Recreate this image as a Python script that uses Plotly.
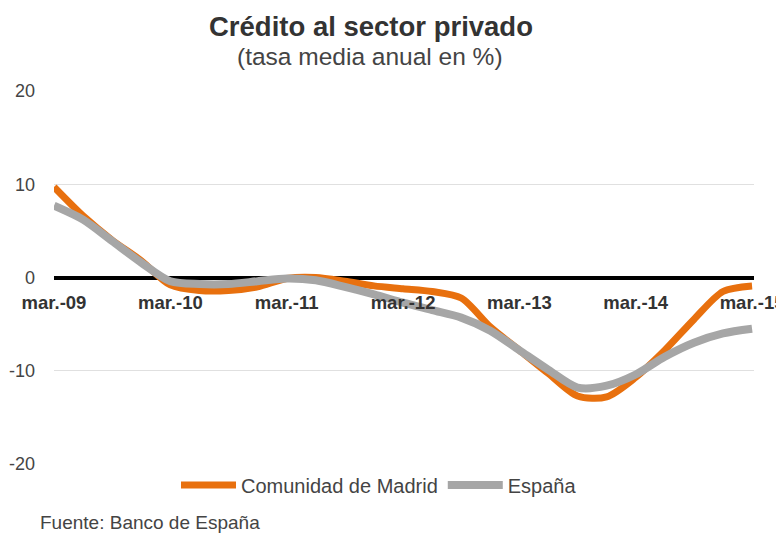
import plotly.graph_objects as go

# months since March 2009 (quarterly observations)
months = list(range(0, 73, 3))
madrid = [9.7, 6.6, 4.0, 1.8, -0.8, -1.4, -1.4, -1.0, -0.1, 0.0, -0.4, -0.9, -1.2,
          -1.5, -2.2, -5.3, -7.8, -10.3, -12.7, -12.8, -10.7, -7.8, -4.5, -1.5, -0.9]
espana = [7.7, 6.2, 3.9, 1.6, -0.4, -0.7, -0.7, -0.4, -0.1, -0.3, -1.0, -1.8, -2.7,
          -3.5, -4.3, -5.7, -7.8, -9.9, -11.8, -11.6, -10.4, -8.5, -7.0, -6.0, -5.5]
tick_pos = [0, 12, 24, 36, 48, 60, 72]
tick_labels = ["mar.-09", "mar.-10", "mar.-11", "mar.-12", "mar.-13", "mar.-14", "mar.-15"]
y_ticks = [-20, -10, 0, 10, 20]
y_labels = ["-20", "-10", "0", "10", "20"]

FONT = "Liberation Sans, Arial, sans-serif"
ORANGE = "#E8700E"
GRAY = "#A6A6A6"

# the page places the figure 8px from the top-left corner
W, H = 776, 526

fig = go.Figure()
fig.add_trace(go.Scatter(x=months, y=madrid, mode="lines", name="Comunidad de Madrid",
                         line=dict(color=ORANGE, width=7, shape="spline", smoothing=0.8)))
fig.add_trace(go.Scatter(x=months, y=espana, mode="lines", name="España",
                         line=dict(color=GRAY, width=8, shape="spline", smoothing=0.8)))

fig.update_layout(
    width=W, height=H,
    margin=dict(l=46, r=30, t=83, b=70, autoexpand=False),
    paper_bgcolor="white", plot_bgcolor="white",
    font=dict(family=FONT, color="#333"),
    showlegend=True,
    title=dict(text="<b>Crédito al sector privado</b>", x=363/W, xanchor="center",
               xref="container", y=1 - 18/H, yref="container", yanchor="middle",
               font=dict(size=27.5, color="#333", family=FONT)),
    legend=dict(orientation="h", x=(379-54)/700, xanchor="center", y=-0.056, yanchor="middle",
                font=dict(size=20, color="#444", family=FONT), itemwidth=55,
                bgcolor="rgba(0,0,0,0)"),
    xaxis=dict(range=[0, 72.2], tickmode="array", tickvals=tick_pos, ticktext=tick_labels,
               showgrid=False, zeroline=False, showline=False, ticks="",
               anchor="free", position=0.5, ticklabelstandoff=12, automargin=False,
               ticklabeloverflow="allow",
               tickfont=dict(size=18.5, color="#333", family="Liberation Sans, Arial", weight="bold")),
    yaxis=dict(range=[-20, 20], tickmode="array", tickvals=y_ticks, ticktext=y_labels,
               showgrid=True, gridcolor="#E0E0E0", gridwidth=1,
               zeroline=True, zerolinecolor="black", zerolinewidth=4,
               showline=False, ticks="", ticklabelstandoff=18, automargin=False,
               tickfont=dict(size=18, color="#444", family=FONT)),
    annotations=[
        dict(text="(tasa media anual en %)", x=(370-54)/700, y=(91-57)/373 + 1,
             xref="paper", yref="paper", xanchor="center", yanchor="middle",
             showarrow=False, font=dict(size=24.5, color="#444", family=FONT)),
        dict(text="Fuente: Banco de España", x=(38-54)/700, y=(464-522)/373,
             xref="paper", yref="paper", xanchor="left", yanchor="middle",
             showarrow=False, font=dict(size=19, color="#444", family=FONT)),
    ],
)

fig.write_html("out.html")
